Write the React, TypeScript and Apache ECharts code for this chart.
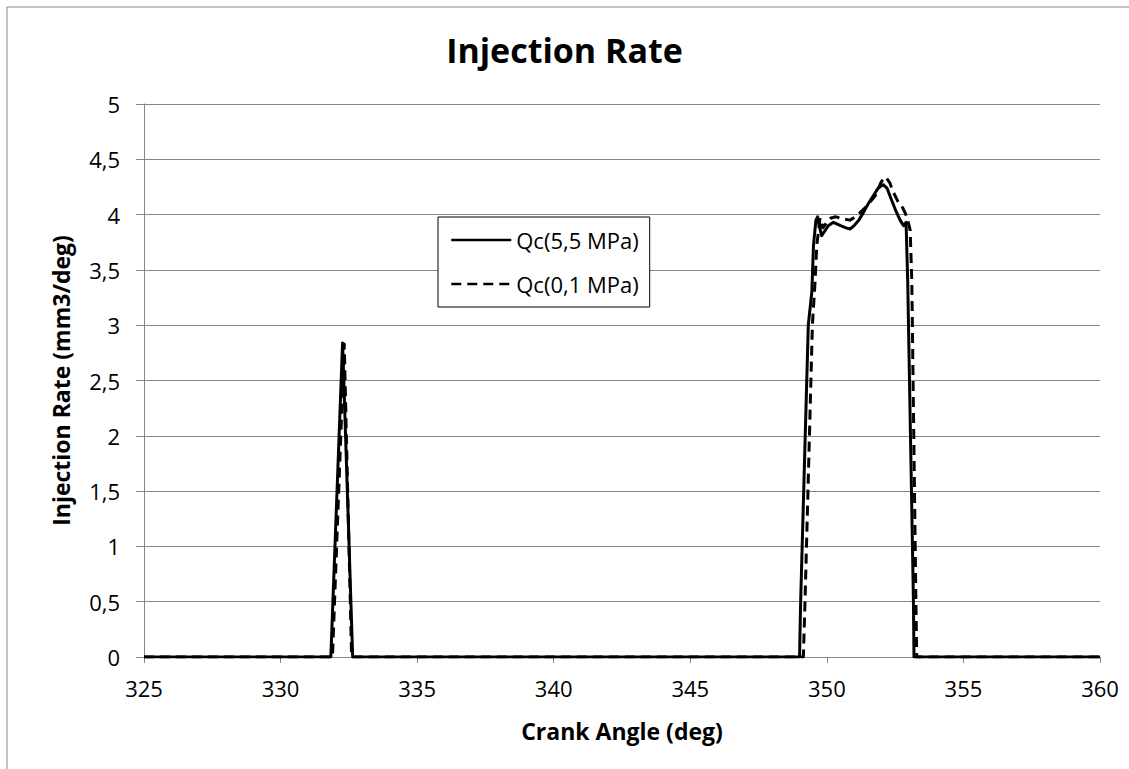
import React, { useEffect, useRef } from "react";
import * as echarts from "echarts";

const titleText = "Injection Rate";
const xAxisName = "Crank Angle (deg)";
const yAxisName = "Injection Rate (mm3/deg)";
const seriesNames = ["Qc(5,5 MPa)", "Qc(0,1 MPa)"];

// Qc(5,5 MPa) - solid
const solidX = [325, 331.84, 332.27, 332.64, 349.0, 349.04, 349.32, 349.45, 349.51, 349.6, 349.66, 349.72, 349.81, 349.92, 350.05, 350.24, 350.5, 350.7, 350.85, 351.0, 351.17, 351.34, 351.52, 351.7, 351.88, 352.06, 352.2, 352.34, 352.5, 352.68, 352.81, 352.9, 352.96, 353.17, 353.19, 360];
const solidY = [0, 0, 2.84, 0, 0, 0.5, 3.0, 3.3, 3.72, 3.95, 3.98, 3.9, 3.81, 3.85, 3.9, 3.93, 3.9, 3.88, 3.87, 3.9, 3.95, 4.02, 4.1, 4.17, 4.24, 4.27, 4.24, 4.15, 4.05, 3.95, 3.9, 3.93, 3.4, 0.5, 0, 0];

// Qc(0,1 MPa) - dashed
const dashedX = [325, 331.9, 332.33, 332.6, 349.14, 349.2, 349.47, 349.57, 349.63, 349.75, 349.85, 350.0, 350.15, 350.33, 350.6, 350.85, 351.1, 351.4, 351.77, 352.0, 352.15, 352.3, 352.42, 352.6, 352.78, 352.93, 353.05, 353.11, 353.26, 353.29, 360];
const dashedY = [0, 0, 2.83, 0, 0, 0.5, 3.0, 3.4, 3.72, 3.97, 3.88, 3.93, 3.97, 3.98, 3.96, 3.95, 3.99, 4.06, 4.17, 4.3, 4.34, 4.29, 4.21, 4.12, 4.06, 3.98, 3.86, 3.4, 0.5, 0, 0];

const FONT = "'Open Sans', sans-serif";

export default function App() {
  const ref = useRef<HTMLDivElement>(null);
  useEffect(() => {
    if (!ref.current) return;
    const chart = echarts.init(ref.current, undefined, { renderer: "svg" });
    const solid = solidX.map((x, i) => [x, solidY[i]]);
    const dashed = dashedX.map((x, i) => [x, dashedY[i]]);
    chart.setOption({
      animation: false,
      backgroundColor: "#fff",
      textStyle: { fontFamily: FONT },
      title: {
        text: titleText,
        left: "center",
        top: 33,
        padding: [0, 0, 0, 11],
        textStyle: { fontFamily: FONT, fontSize: 34, fontWeight: "bold", color: "#000" },
      },
      graphic: [
        {
          type: "rect",
          shape: { x: 7, y: 7, width: 1400, height: 1000 },
          style: { fill: "none", stroke: "#868686", lineWidth: 1 },
          silent: true,
          z: -10,
        },
      ],
      legend: {
        orient: "vertical",
        left: 438,
        top: 217,
        padding: [11, 11, 11, 12],
        itemGap: 20,
        itemWidth: 60,
        itemHeight: 24,
        backgroundColor: "#fff",
        borderColor: "#000",
        borderWidth: 1,
        borderRadius: 0,
        itemStyle: { opacity: 0 },
        lineStyle: { width: 2.5 },
        textStyle: { fontFamily: FONT, fontSize: 22, color: "#000", lineHeight: 24 },
        data: seriesNames,
      },
      grid: { left: 144, top: 104, width: 956, height: 553, containLabel: false },
      xAxis: {
        type: "value",
        min: 325,
        max: 360,
        interval: 5,
        name: xAxisName,
        nameLocation: "middle",
        nameGap: 62,
        nameTextStyle: { fontFamily: FONT, fontSize: 23, fontWeight: "bold", color: "#000" },
        axisLine: { show: true, lineStyle: { color: "#868686", width: 1 } },
        axisTick: { show: true, length: 6, lineStyle: { color: "#868686" } },
        axisLabel: { margin: 20, fontFamily: FONT, fontSize: 22, color: "#000" },
        splitLine: { show: false },
      },
      yAxis: {
        type: "value",
        min: 0,
        max: 5,
        interval: 0.5,
        name: yAxisName,
        nameLocation: "middle",
        nameGap: 72,
        nameRotate: 90,
        nameTextStyle: { fontFamily: FONT, fontSize: 23, fontWeight: "bold", color: "#000" },
        axisLine: { show: true, lineStyle: { color: "#868686", width: 1 } },
        axisTick: { show: true, length: 8, lineStyle: { color: "#868686" } },
        axisLabel: {
          margin: 24,
          fontFamily: FONT,
          fontSize: 22,
          color: "#000",
          formatter: (v: number) => String(v).replace(".", ","),
        },
        splitLine: { show: true, lineStyle: { color: "#868686", width: 1 } },
      },
      series: [
        {
          name: seriesNames[0],
          type: "line",
          data: solid,
          symbol: "none",
          lineStyle: { color: "#000", width: 3, type: "solid", join: "round" },
          itemStyle: { color: "#000" },
          z: 3,
        },
        {
          name: seriesNames[1],
          type: "line",
          data: dashed,
          symbol: "none",
          lineStyle: { color: "#000", width: 3, type: [10, 6], join: "round" },
          itemStyle: { color: "#000" },
          z: 2,
        },
      ],
    });
    return () => chart.dispose();
  }, []);
  return (
    <div
      ref={ref}
      style={{ position: "fixed", left: 0, top: 0, width: 1129, height: 769 }}
    />
  );
}
